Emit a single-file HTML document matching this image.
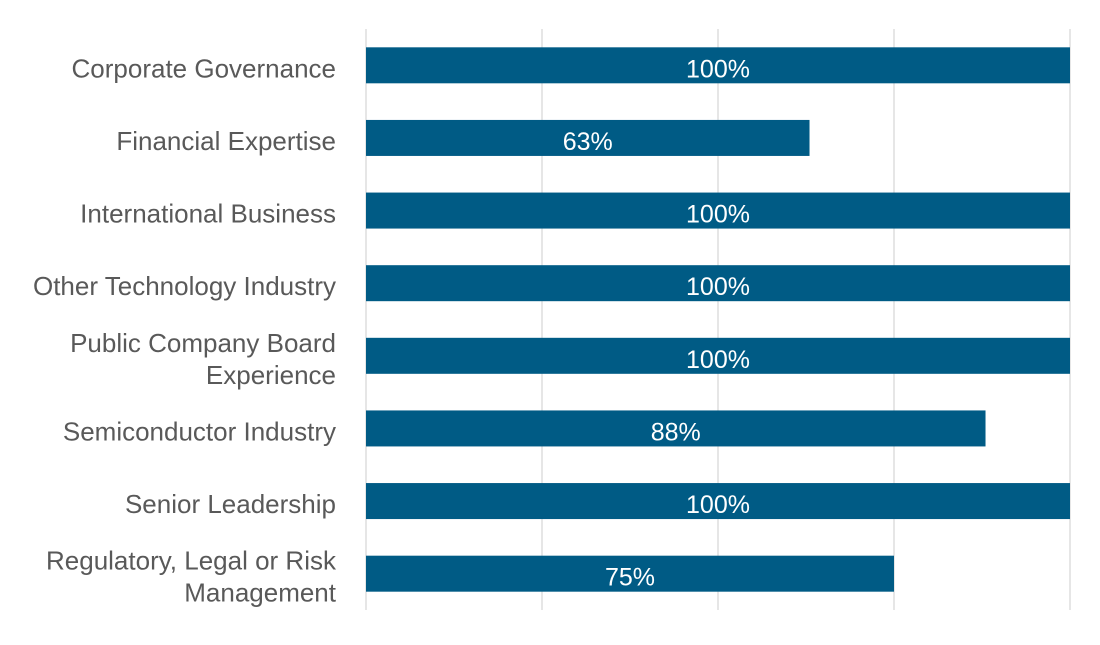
<!DOCTYPE html>
<html><head><meta charset="utf-8"><style>
body{margin:0;background:#fff;}
svg text{font-family:"Liberation Sans",sans-serif;}
</style></head><body>
<svg width="1100" height="640" id="chart">
<g id="grid"></g><g id="bars"></g><g id="labels"></g>
</svg>
<script>
const categories=["Corporate Governance","Financial Expertise","International Business","Other Technology Industry","Public Company Board|Experience","Semiconductor Industry","Senior Leadership","Regulatory, Legal or Risk|Management"];
const values=[100,63,100,100,100,88,100,75];
const gridTicks=[0,25,50,75,100];
const x0=366,x1=1070,yTop=29,yBot=610;
const xs=v=>x0+(x1-x0)*v/100;
const band=(yBot-yTop)/categories.length;
const yc=i=>yTop+band*(i+0.5);
const NS="http://www.w3.org/2000/svg";
function mk(t,a,p){const e=document.createElementNS(NS,t);for(const k in a)e.setAttribute(k,a[k]);p.appendChild(e);return e;}
const g=document.getElementById('grid'),b=document.getElementById('bars'),l=document.getElementById('labels');
gridTicks.forEach(t=>{const e=mk('line',{x1:xs(t),x2:xs(t),y1:yTop,y2:yBot,stroke:'#e6e6e6','stroke-width':2},g);

});
categories.forEach((c,i)=>{
const r=mk('rect',{x:x0,y:yc(i)-18,width:xs(values[i])-x0,height:36,fill:'#005b85'},b);


const v=mk('text',{x:(x0+xs(values[i]))/2,y:yc(i)+12,'text-anchor':'middle','font-size':25,fill:'#fff'},b);
v.textContent=values[i]+'%';


const parts=c.split('|');
const t=mk('text',{x:336,'text-anchor':'end','font-size':26,fill:'#595959'},l);


parts.forEach((p,j)=>{const s=mk('tspan',{x:336,y:yc(i)+12+(j-(parts.length-1)/2)*32},t);s.textContent=p;});
});
</script>
</body></html>
